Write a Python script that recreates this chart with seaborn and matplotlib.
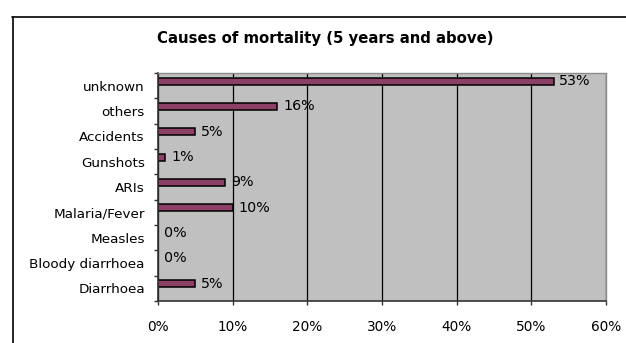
import numpy as np
import pandas as pd
import matplotlib
matplotlib.use("Agg")
import matplotlib.pyplot as plt
from matplotlib.lines import Line2D
from matplotlib.ticker import FixedLocator, FuncFormatter
import seaborn as sns

categories = ["unknown", "others", "Accidents", "Gunshots", "ARIs",
              "Malaria/Fever", "Measles", "Bloody diarrhoea", "Diarrhoea"]
values = [53, 16, 5, 1, 9, 10, 0, 0, 5]
x_ticks = [0, 10, 20, 30, 40, 50, 60]
title = "Causes of mortality (5 years and above)"

df = pd.DataFrame({
    "cause": categories + categories,
    "pct": values + [np.nan] * len(categories),
    "series": ["main"] * len(categories) + ["blank"] * len(categories),
})

sns.set_style("white")
plt.rcParams["font.family"] = ["DejaVu Sans"]

W, H = 626, 343
fig = plt.figure(figsize=(W / 100, H / 100), dpi=100)
ax = fig.add_axes([158 / W, 1 - 301 / H, (606 - 158) / W, (301 - 73) / H])
ax.set_facecolor("#C0C0C0")

sns.barplot(data=df, y="cause", x="pct", hue="series", hue_order=["main", "blank"],
            order=categories, orient="h", palette={"main": "#993366", "blank": "#993366"},
            width=0.72, gap=0.22, dodge=True, edgecolor="black", linewidth=1.1,
            legend=False, ax=ax, errorbar=None)

ax.set_xlim(0, 60)
ax.set_ylim(len(categories) - 0.5, -0.5)
ax.xaxis.set_major_locator(FixedLocator(x_ticks))
ax.xaxis.set_major_formatter(FuncFormatter(lambda v, p: f"{v:.0f}%"))
ax.grid(axis="x", color="black", linewidth=0.9)
ax.grid(axis="y", visible=False)
ax.set_axisbelow(True)
ax.set_xlabel("")
ax.set_ylabel("")

ax.tick_params(axis="x", which="major", direction="out", length=3, width=1,
               color="#333333", pad=11, labelsize=9.8, labelcolor="black", bottom=True)
ax.tick_params(axis="y", which="major", length=0, pad=9.5, labelsize=9.7, labelcolor="black")
ax.yaxis.set_minor_locator(FixedLocator(np.arange(-0.5, len(categories), 1.0)))
ax.tick_params(axis="y", which="minor", direction="out", length=3, width=1,
               color="#333333", left=True)

for s in ["left", "bottom"]:
    ax.spines[s].set_color("#333333")
    ax.spines[s].set_linewidth(1.2)
for s in ["top", "right"]:
    ax.spines[s].set_color("#8C8C8C")
    ax.spines[s].set_linewidth(1.0)

cont = ax.containers[0]
ax.bar_label(cont, labels=[f"{v:.0f}%" for v in values], padding=4,
             fontsize=10.3, color="black")

fig.text(325.5 / W, 1 - 39 / H, title, ha="center", va="center",
         fontsize=10.7, fontweight="bold", color="black")

fig.add_artist(Line2D([12.5 / W, 12.5 / W], [0, 1 - 17 / H], transform=fig.transFigure,
                      color="black", linewidth=1.2))
fig.add_artist(Line2D([12 / W, 1], [1 - 17 / H, 1 - 17 / H], transform=fig.transFigure,
                      color="black", linewidth=1.2))

fig.savefig("out.png", dpi=100)
